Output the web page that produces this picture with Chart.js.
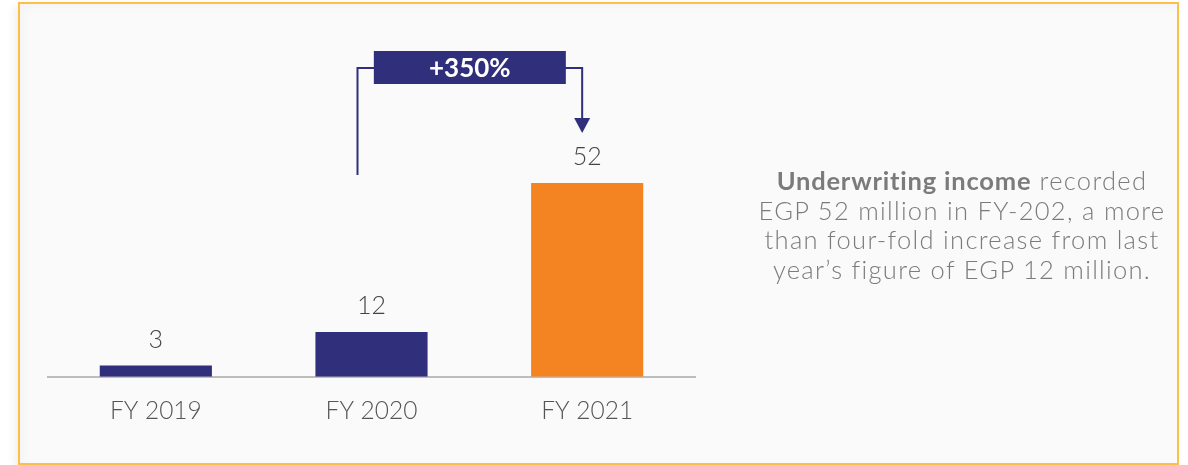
<!DOCTYPE html>
<html>
<head>
<meta charset="utf-8">
<script src="https://cdn.jsdelivr.net/npm/chart.js@4"></script>
<style>
  html, body { margin: 0; padding: 0; background: #fff; }
  body { width: 1188px; height: 465px; position: relative; overflow: hidden; font-family: Lato, "Open Sans", sans-serif; }
  #frame {
    position: absolute; left: 18px; top: 2px; width: 1157px; height: 459px;
    border: 2px solid #fbc04a; background: #fafafa;
    box-shadow: -4px 3px 8px rgba(0,0,0,0.06), inset 4px 4px 10px rgba(0,0,0,0.025);
  }
  #chartBox { position: absolute; left: 0; top: 0; width: 1188px; height: 465px; }
  #note {
    position: absolute; left: 722px; top: 166px; width: 480px;
    text-align: center; color: #7b7b7b; font-size: 25.5px; line-height: 29.5px; font-weight: 300;
    letter-spacing: 1.3px;
  }
  #note b { font-weight: 700; letter-spacing: 0.8px; }
</style>
</head>
<body>
<div id="frame"></div>
<div id="chartBox"><canvas id="incomeChart" width="1188" height="465"></canvas></div>
<div id="note"><b>Underwriting income</b> recorded<br>EGP 52 million in FY-202, a more<br>than four-fold increase from last<br>year’s figure of EGP 12 million.</div>
<script>
const years = ['FY 2019', 'FY 2020', 'FY 2021'];
const income = [3, 12, 52];
const barColors = ['#2f2f7b', '#2f2f7b', '#f48322'];
const growthLabel = '+350%';

const navy = '#2f2f7b';
const fontFamily = 'Lato, "Open Sans", sans-serif';

// value labels above each bar
const valueLabels = {
  id: 'valueLabels',
  afterDatasetsDraw(chart) {
    const ctx = chart.ctx;
    const meta = chart.getDatasetMeta(0);
    ctx.save();
    ctx.font = '300 25px ' + fontFamily;
    ctx.fillStyle = '#444';
    ctx.textAlign = 'center';
    ctx.textBaseline = 'middle';
    meta.data.forEach((bar, i) => {
      ctx.fillText(String(income[i]), bar.x, bar.y - 26);
    });
    ctx.restore();
  }
};

// growth bracket from FY 2020 to FY 2021
const growthBracket = {
  id: 'growthBracket',
  afterDatasetsDraw(chart) {
    const ctx = chart.ctx;
    const meta = chart.getDatasetMeta(0);
    const from = meta.data[1];
    const to = meta.data[2];
    const x1 = from.x - 14;
    const x2 = to.x - 5;
    const yTop = to.y - 115;
    const yLeftEnd = to.y - 8;
    const yTip = to.y - 50;

    ctx.save();
    ctx.strokeStyle = navy;
    ctx.fillStyle = navy;
    ctx.lineWidth = 2;
    ctx.beginPath();
    ctx.moveTo(x1, yLeftEnd);
    ctx.lineTo(x1, yTop);
    ctx.lineTo(x2, yTop);
    ctx.lineTo(x2, yTip - 14);
    ctx.stroke();

    ctx.beginPath();
    ctx.moveTo(x2 - 8, yTip - 15);
    ctx.lineTo(x2 + 8, yTip - 15);
    ctx.lineTo(x2, yTip);
    ctx.closePath();
    ctx.fill();

    const cx = (x1 + x2) / 2;
    const w = 192, h = 33;
    ctx.fillRect(cx - w / 2, yTop - 17, w, h);
    ctx.fillStyle = '#fff';
    ctx.font = 'bold 26px ' + fontFamily;
    ctx.textAlign = 'center';
    ctx.textBaseline = 'middle';
    ctx.fillText(growthLabel, cx, yTop + 1);
    ctx.restore();
  }
};

new Chart(document.getElementById('incomeChart'), {
  type: 'bar',
  data: {
    labels: years,
    datasets: [{
      data: income,
      backgroundColor: barColors,
      categoryPercentage: 1,
      barPercentage: 0.52
    }]
  },
  options: {
    responsive: false,
    animation: false,
    layout: { padding: { left: 48, right: 493, top: 78.7, bottom: 0 } },
    plugins: { legend: { display: false }, tooltip: { enabled: false } },
    scales: {
      x: {
        grid: { display: false, drawTicks: false },
        border: { color: '#bdbdbd', width: 2 },
        ticks: { color: '#555', padding: 20, font: { family: fontFamily, size: 24.5, weight: 300 } },
        afterFit(scale) { scale.height = 88.3; }
      },
      y: { display: false, min: 0, max: 80 }
    }
  },
  plugins: [valueLabels, growthBracket]
});
</script>
</body>
</html>
